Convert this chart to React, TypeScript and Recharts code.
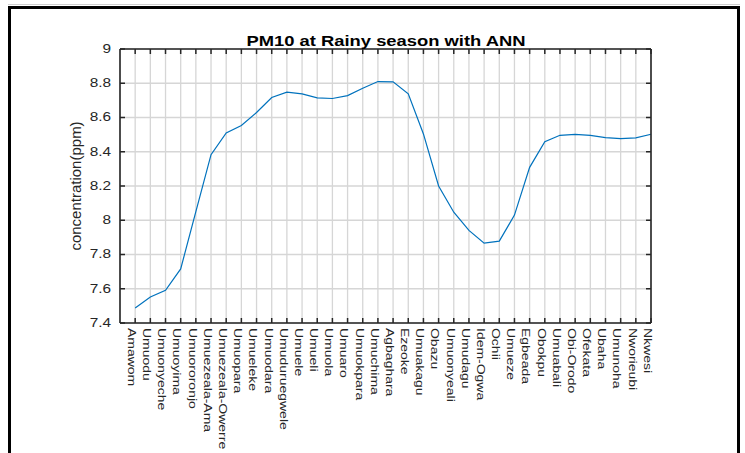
import { LineChart, Line, XAxis, YAxis, CartesianGrid, ReferenceLine } from 'recharts';

const sites = [
  'Amawom', 'Umuodu', 'Umuonyeche', 'Umuoyima', 'Umuororonjo', 'Umuezeala-Ama',
  'Umuezeala-Owerre', 'Umuopara', 'Umueleke', 'Umuodara', 'Umuduruegwele', 'Umuele',
  'Umueli', 'Umuola', 'Umuaro', 'Umuokpara', 'Umuchima', 'Agbaghara', 'Ezeoke',
  'Umuakagu', 'Obazu', 'Umuonyeali', 'Umudagu', 'Idem-Ogwa', 'Ochii', 'Umueze',
  'Egbeada', 'Obokpu', 'Umuabali', 'Obi-Orodo', 'Ofekata', 'Ubaha', 'Umunoha',
  'Nworieubi', 'Nkwesi',
];

const pm10 = [
  7.488, 7.552, 7.591, 7.716, 8.05, 8.383, 8.51, 8.553, 8.629, 8.717, 8.748, 8.738,
  8.715, 8.711, 8.728, 8.771, 8.81, 8.808, 8.738, 8.504, 8.2, 8.047, 7.941, 7.866,
  7.878, 8.03, 8.309, 8.459, 8.496, 8.502, 8.496, 8.483, 8.477, 8.481, 8.502,
];

const yTicks = [7.4, 7.6, 7.8, 8, 8.2, 8.4, 8.6, 8.8, 9];
const xTicks = sites.map((_, i) => i + 1);

const data = sites.map((name, i) => ({ x: i + 1, name, pm10: pm10[i] }));

const FONT = '"Liberation Sans", Arial, Helvetica, sans-serif';
const INK = '#262626';
const TICK = 5;

// chart layout
const W = 745;
const H = 453;
const MARGIN = { top: 49, right: 94, bottom: 10, left: 70 };
const PLOT_TOP = MARGIN.top;
const PLOT_RIGHT = W - MARGIN.right;

// bottom labels + inward ticks on the bottom and top edges of the box
function SiteTick(props: any) {
  const { x, y, payload } = props;
  const label = sites[payload.value - 1] ?? '';
  const axisY = y - 5;
  return (
    <g>
      <path d={`M${x},${axisY}V${axisY - TICK}`} stroke={INK} strokeWidth={1.5} />
      <path d={`M${x},${PLOT_TOP}V${PLOT_TOP + TICK}`} stroke={INK} strokeWidth={1.5} />
      <text
        transform={`translate(${x},${y}) rotate(90) scale(1,0.8)`}
        x={0}
        y={9}
        textAnchor="start"
        fontSize={14}
        fontFamily={FONT}
        fill={INK}
      >
        {label}
      </text>
    </g>
  );
}

// left labels + inward ticks on the left and right edges of the box
function ValueTick(props: any) {
  const { x, y, payload } = props;
  const axisX = x + 9;
  return (
    <g>
      <path d={`M${axisX},${y}H${axisX + TICK}`} stroke={INK} strokeWidth={1.5} />
      <path d={`M${PLOT_RIGHT - TICK},${y}H${PLOT_RIGHT}`} stroke={INK} strokeWidth={1.5} />
      <text
        transform={`translate(${x},${y}) scale(1.28,1)`}
        x={0}
        y={0}
        textAnchor="end"
        dominantBaseline="central"
        fontSize={12}
        fontFamily={FONT}
        fill={INK}
      >
        {String(payload.value)}
      </text>
    </g>
  );
}

export default function App() {
  return (
    <div style={{ position: 'absolute', left: 0, top: 0, width: W, height: H, background: '#fff' }}>
      {/* figure frame */}
      <div style={{ position: 'absolute', left: 8, top: 4, width: 732, height: 1, background: '#cfcfcf' }} />
      <div style={{ position: 'absolute', left: 8, top: 6, width: 732, height: 3, background: '#000' }} />
      <div style={{ position: 'absolute', left: 8, top: 6, width: 3, height: 447, background: '#000' }} />
      <div style={{ position: 'absolute', left: 737, top: 6, width: 3, height: 447, background: '#000' }} />

      <div style={{ position: 'absolute', left: 0, top: 0 }}>
        <LineChart width={W} height={H} data={data} margin={MARGIN}>
          <CartesianGrid stroke="#d6d6d6" strokeWidth={1.3} />
          <XAxis
            type="number"
            dataKey="x"
            domain={[0, 35]}
            ticks={xTicks}
            interval={0}
            height={120}
            tickSize={0}
            tickMargin={5}
            tickLine={false}
            tick={<SiteTick />}
            axisLine={{ stroke: INK, strokeWidth: 1.6 }}
          />
          <YAxis
            domain={[7.4, 9]}
            ticks={yTicks}
            interval={0}
            width={50}
            tickSize={0}
            tickMargin={9}
            tickLine={false}
            tick={<ValueTick />}
            axisLine={{ stroke: INK, strokeWidth: 1.6 }}
          />
          <Line
            type="linear"
            dataKey="pm10"
            stroke="#0072BD"
            strokeWidth={1.2}
            dot={false}
            isAnimationActive={false}
          />
          {/* box edges, top and right */}
          <ReferenceLine y={9} stroke={INK} strokeWidth={1.6} />
          <ReferenceLine x={35} stroke={INK} strokeWidth={1.6} />
        </LineChart>
      </div>

      <svg
        width={W}
        height={H}
        style={{ position: 'absolute', left: 0, top: 0, pointerEvents: 'none' }}
      >
        <text
          x={386}
          y={46}
          textAnchor="middle"
          fontSize={15}
          fontWeight="bold"
          fontFamily={FONT}
          fill="#000"
          textLength={279}
          lengthAdjust="spacingAndGlyphs"
        >
          PM10 at Rainy season with ANN
        </text>
        <text
          transform="translate(75,186) rotate(-90)"
          x={0}
          y={0}
          textAnchor="middle"
          dominantBaseline="central"
          fontSize={15}
          fontFamily={FONT}
          fill={INK}
        >
          concentration(ppm)
        </text>
      </svg>
    </div>
  );
}
